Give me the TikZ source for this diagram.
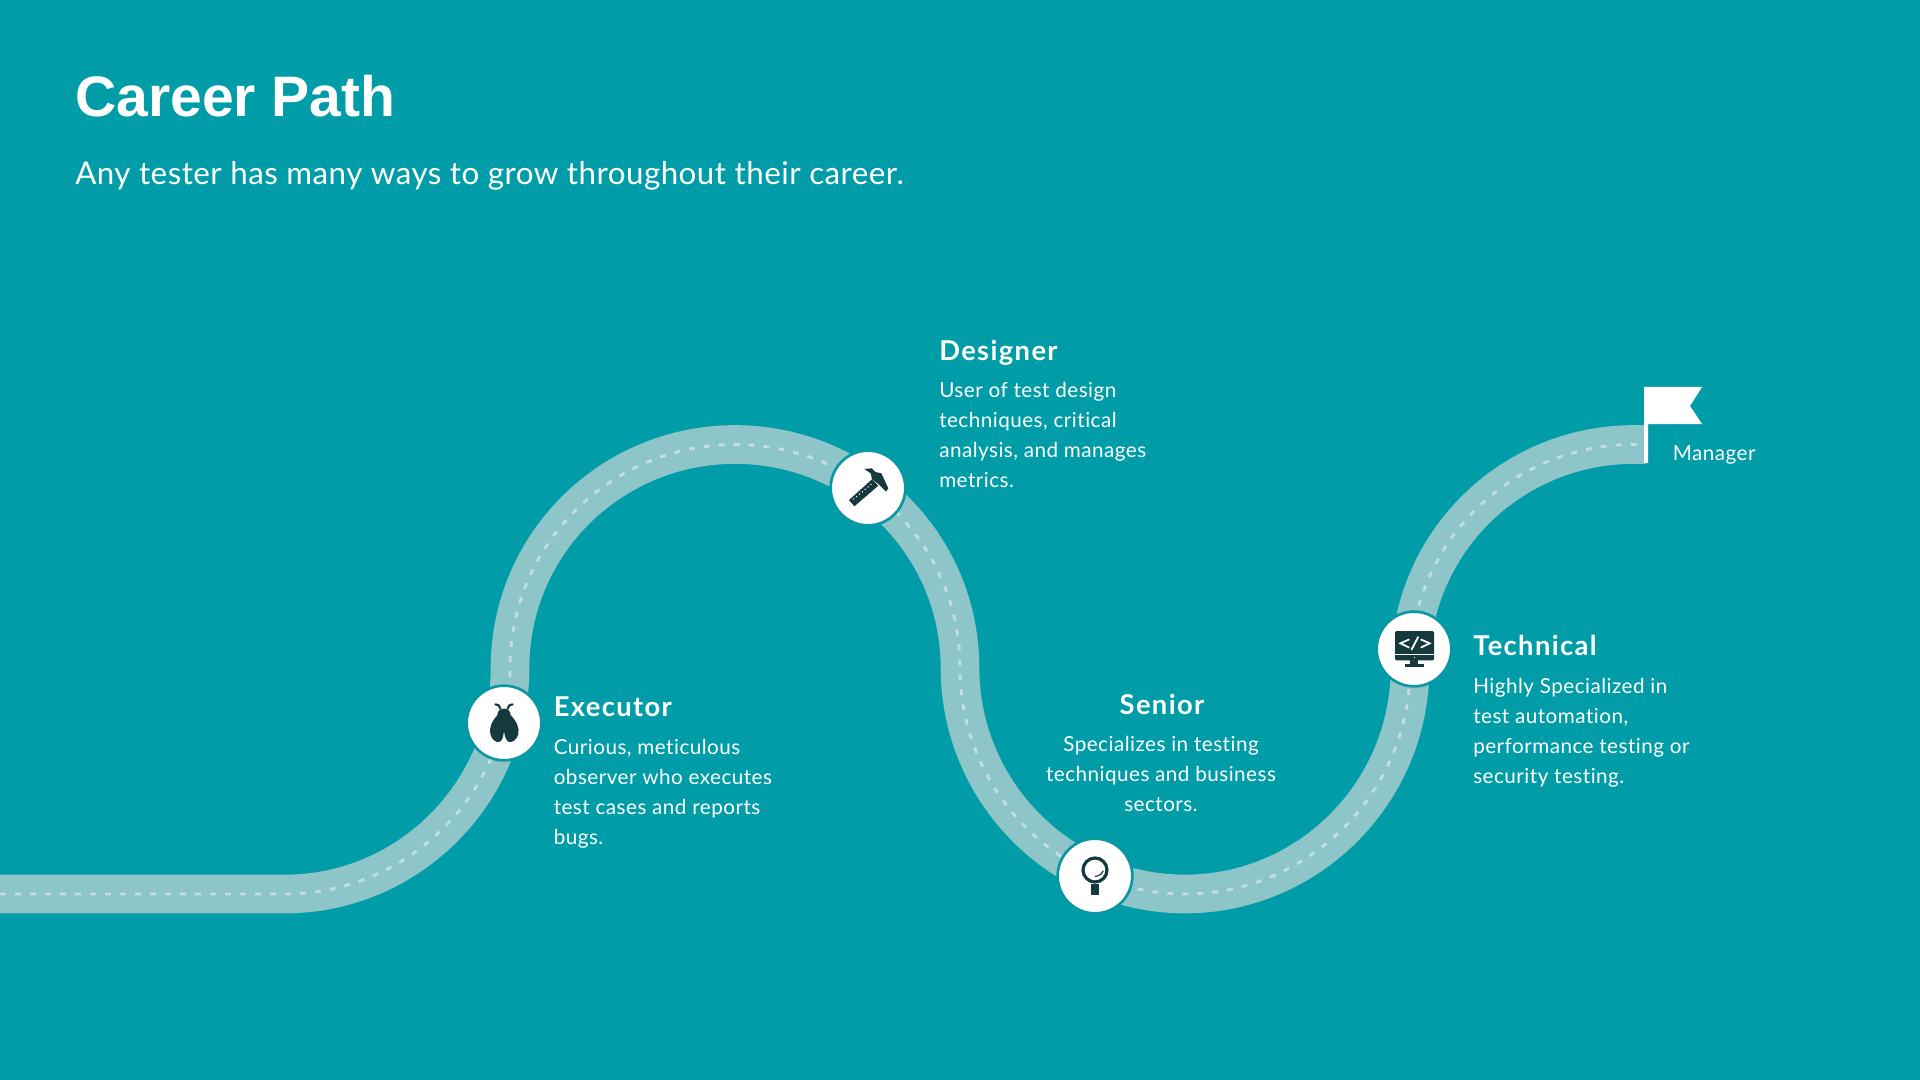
\documentclass[tikz,border=0pt]{standalone}
\usepackage{fontspec}
\setmainfont{Lato}[Ligatures=NoCommon]
\newfontfamily\titlefont{Liberation Sans}
\definecolor{bgteal}{HTML}{009DA9}
\definecolor{roadcol}{HTML}{8EC5C9}
\definecolor{dashcol}{HTML}{BFDFE1}
\definecolor{ringcol}{HTML}{0A97A3}
\definecolor{iconcol}{HTML}{16393D}
\tikzset{
  stopdot/.style={circle,fill=white,draw=ringcol,line width=2pt,minimum size=56pt,inner sep=0pt},
  headtext/.style={text=white,inner sep=0pt,anchor=base west,font={\fontsize{20.5}{24}\selectfont\bfseries\addfontfeature{LetterSpace=5}}},
  bodytext/.style={text=white,inner sep=0pt,anchor=north west,align=left,font={\fontsize{15.5}{22.5}\selectfont\addfontfeature{LetterSpace=2.3}}},
  iconshape/.style={fill=iconcol,draw=none},
}
\newcommand{\firstline}{\rule{0pt}{16pt}}
\begin{document}
\begin{tikzpicture}[x=0.75pt,y=-0.75pt]
\useasboundingbox (0,0) rectangle (1920,1080);
\fill[bgteal] (0,0) rectangle (1920,1080);
% road
\coordinate (roadstart) at (0,894);
\coordinate (roadend) at (1645,444.5);
\def\roadpath{(roadstart) -- (285,894) .. controls (409,894) and (510,792) .. (510,668) .. controls (510,544) and (611,444.5) .. (735,444.5) .. controls (859,444.5) and (960,544) .. (960,668) .. controls (960,792) and (1061,894) .. (1185,894) .. controls (1309,894) and (1410,792) .. (1410,668) .. controls (1410,544) and (1510,444.5) .. (1634,444.5) -- (roadend)}
\draw[roadcol,line width=29pt] \roadpath;
\draw[dashcol,line width=2.2pt,dash pattern=on 4.5pt off 6.75pt] \roadpath;
% stops
\node[stopdot] (executor) at (504,723) {};
\node[stopdot] (designer) at (868,488) {};
\node[stopdot] (senior) at (1095,876) {};
\node[stopdot] (technical) at (1414,649) {};
% bug icon
\begin{scope}[shift={(440,660)},x=0.25pt,y=-0.25pt]
\fill[iconcol] (192,146) .. controls (180,146) and (172,153) .. (172,166) .. controls (155,183) and (147,205) .. (151,222) .. controls (155,240) and (170,250) .. (180,245) .. controls (188,240) and (190,228) .. (192,213) .. controls (194,228) and (197,240) .. (205,245) .. controls (215,250) and (231,240) .. (235,222) .. controls (239,205) and (230,183) .. (212,166) .. controls (212,153) and (204,146) .. (192,146) -- cycle;
\draw[iconcol,line width=1.6pt,line cap=round] (181,146) -- (176,136) -- (166,133);
\draw[iconcol,line width=1.6pt,line cap=round] (203,146) -- (208,136) -- (218,133);
\end{scope}
% hammer and ruler icon
\begin{scope}[shift={(810,420)},x=0.25pt,y=-0.25pt]
\fill[iconcol] (117,240) -- (186,178) -- (205,197) -- (133,259) -- cycle;
\fill[iconcol] (163,147) -- (185,145) -- (196,156) -- (214,160) -- (235,205) -- (228,215) -- (205,192) -- (186,178) -- (182,160) -- cycle;
\draw[white,line width=.8pt,dash pattern=on .8pt off 2pt] (130,238) -- (187,190);
\end{scope}
% magnifier icon
\begin{scope}[shift={(1030,810)},x=0.25pt,y=-0.25pt]
\draw[iconcol,line width=2.4pt] (195,180) circle[radius=36];
\fill[iconcol] (184,222) rectangle (207,255);
\draw[iconcol,line width=.9pt,line cap=round] (219,183) .. controls (215,193) and (207,198) .. (196,199);
\end{scope}
% monitor icon
\begin{scope}[shift={(1350,585)},x=0.25pt,y=-0.25pt]
\fill[iconcol,rounded corners=1pt] (135,138) rectangle (252,226);
\draw[white,line width=.6pt] (135,208) -- (252,208);
\fill[white] (193,217) circle[radius=2];
\fill[iconcol] (181,226) rectangle (205,238);
\fill[iconcol] (165,238) rectangle (222,247);
\draw[white,line width=1.3pt,line join=miter] (178,163) -- (151,175) -- (178,188);
\draw[white,line width=1.3pt] (205,155) -- (184,195);
\draw[white,line width=1.3pt,line join=miter] (212,163) -- (239,175) -- (212,188);
\end{scope}
% flag
\fill[white] (1644,387) -- (1702,387) -- (1690,406) -- (1702,424) -- (1648,424) -- (1648,463) -- (1644,463) -- cycle;
% texts
\node[text=white,inner sep=0pt,anchor=base west,font={\fontsize{42.8}{50}\selectfont\titlefont\bfseries}] (title) at (75,117) {Career Path};
\node[text=white,inner sep=0pt,anchor=base west,font={\fontsize{23.5}{30}\selectfont\addfontfeature{LetterSpace=1.5}}] (subtitle) at (75,185) {Any tester has many ways to grow throughout their career.};
\node[headtext] (designerhead) at (939,360.5) {Designer};
\node[bodytext] (designerbody) at (939,375.7) {\firstline User of test design\\techniques, critical\\analysis, and manages\\metrics.};
\node[headtext] (executorhead) at (553.5,716.5) {Executor};
\node[bodytext] (executorbody) at (553.5,732.7) {\firstline Curious, meticulous\\observer who executes\\test cases and reports\\bugs.};
\node[headtext,anchor=base] (seniorhead) at (1162,714) {Senior};
\node[bodytext,anchor=north,align=center] (seniorbody) at (1161,730) {\firstline Specializes in testing\\techniques and business\\sectors.};
\node[headtext] (technicalhead) at (1473,655.5) {Technical};
\node[bodytext] (technicalbody) at (1473,671.7) {\firstline Highly Specialized in\\test automation,\\performance testing or\\security testing.};
\node[text=white,inner sep=0pt,anchor=base west,font={\fontsize{15.5}{20}\selectfont\addfontfeature{LetterSpace=2.3}}] (manager) at (1672.5,460) {Manager};
\end{tikzpicture}
\end{document}
